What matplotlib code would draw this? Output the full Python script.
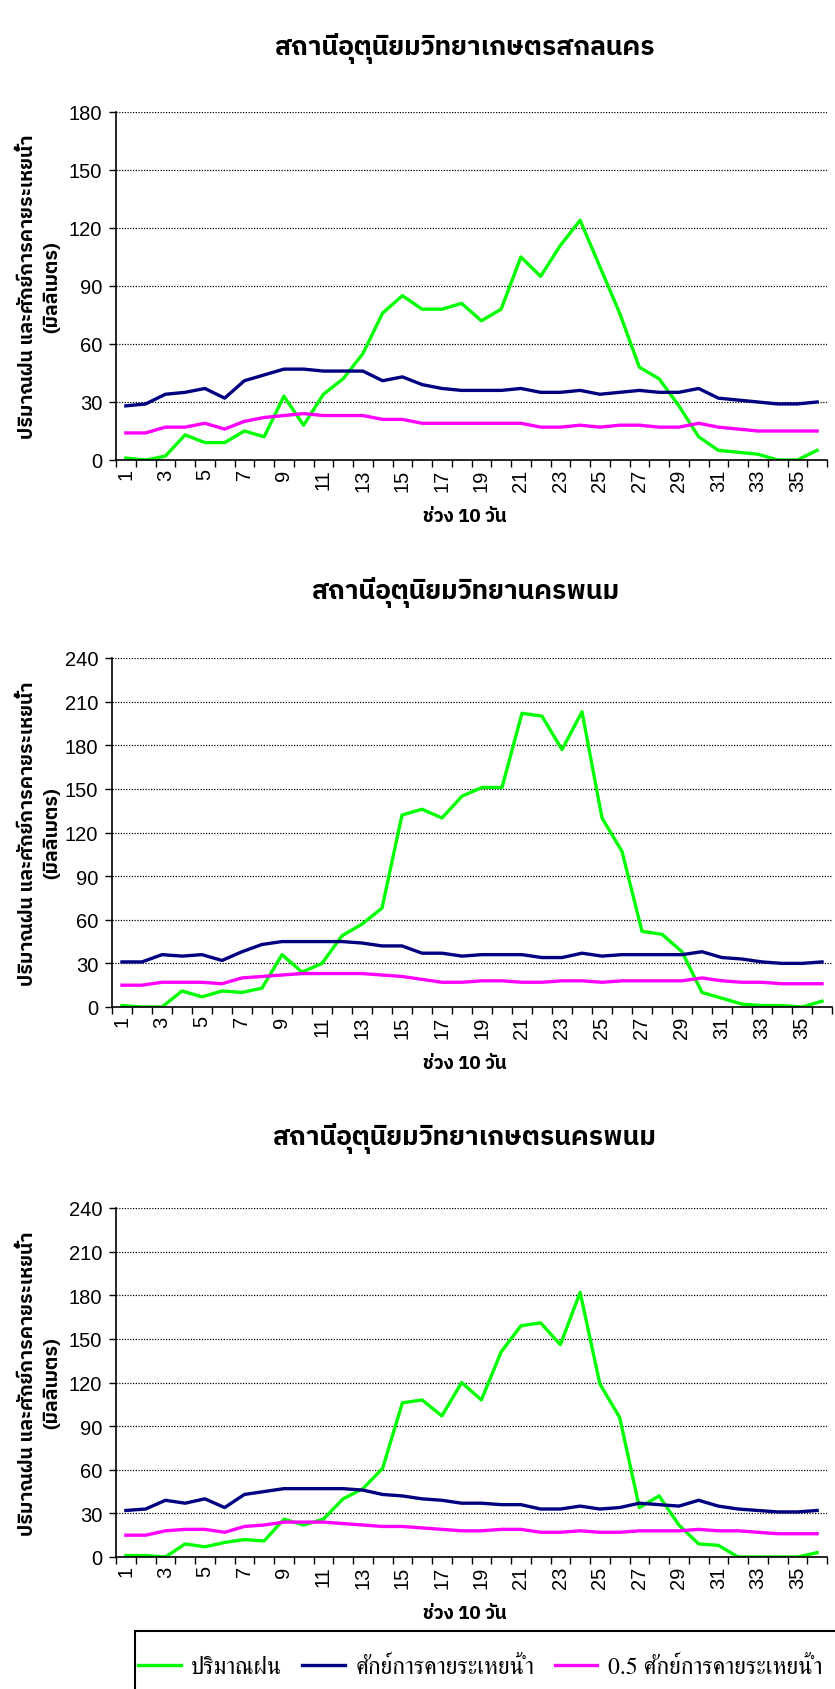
import matplotlib
matplotlib.use('Agg')
import matplotlib.pyplot as plt
from matplotlib import font_manager
from matplotlib.ft2font import FT2Font
from matplotlib.patches import Rectangle

# ช่วง 10 วัน (1-36)
periods = list(range(1, 37))

# สถานีอุตุนิยมวิทยาเกษตรสกลนคร
rain_1 = [1, 0, 2, 13, 9, 9, 15, 12, 33, 18, 34, 42, 55, 76, 85, 78, 78, 81,
          72, 78, 105, 95, 111, 124, 100, 76, 48, 42, 28, 12, 5, 4, 3, 0, 0, 5]
pet_1 = [28, 29, 34, 35, 37, 32, 41, 44, 47, 47, 46, 46, 46, 41, 43, 39, 37, 36,
         36, 36, 37, 35, 35, 36, 34, 35, 36, 35, 35, 37, 32, 31, 30, 29, 29, 30]
half_1 = [14, 14, 17, 17, 19, 16, 20, 22, 23, 24, 23, 23, 23, 21, 21, 19, 19, 19,
          19, 19, 19, 17, 17, 18, 17, 18, 18, 17, 17, 19, 17, 16, 15, 15, 15, 15]

# สถานีอุตุนิยมวิทยานครพนม
rain_2 = [1, 0, 0, 11, 7, 11, 10, 13, 36, 24, 30, 49, 57, 68, 132, 136, 130, 145,
          151, 151, 202, 200, 177, 203, 130, 107, 52, 50, 38, 10, 6, 2, 1, 1, 0, 4]
pet_2 = [31, 31, 36, 35, 36, 32, 38, 43, 45, 45, 45, 45, 44, 42, 42, 37, 37, 35,
         36, 36, 36, 34, 34, 37, 35, 36, 36, 36, 36, 38, 34, 33, 31, 30, 30, 31]
half_2 = [15, 15, 17, 17, 17, 16, 20, 21, 22, 23, 23, 23, 23, 22, 21, 19, 17, 17,
          18, 18, 17, 17, 18, 18, 17, 18, 18, 18, 18, 20, 18, 17, 17, 16, 16, 16]

# สถานีอุตุนิยมวิทยาเกษตรนครพนม
rain_3 = [1, 1, 0, 9, 7, 10, 12, 11, 26, 22, 26, 40, 47, 61, 106, 108, 97, 120,
          108, 141, 159, 161, 146, 182, 119, 96, 34, 42, 22, 9, 8, 0, 0, 0, 0, 3]
pet_3 = [32, 33, 39, 37, 40, 34, 43, 45, 47, 47, 47, 47, 46, 43, 42, 40, 39, 37,
         37, 36, 36, 33, 33, 35, 33, 34, 37, 36, 35, 39, 35, 33, 32, 31, 31, 32]
half_3 = [15, 15, 18, 19, 19, 17, 21, 22, 24, 24, 24, 23, 22, 21, 21, 20, 19, 18,
          18, 19, 19, 17, 17, 18, 17, 17, 18, 18, 18, 19, 18, 18, 17, 16, 16, 16]

titles = ['สถานีอุตุนิยมวิทยาเกษตรสกลนคร',
          'สถานีอุตุนิยมวิทยานครพนม',
          'สถานีอุตุนิยมวิทยาเกษตรนครพนม']
y_max = [180, 240, 240]
legend_labels = ['ปริมาณฝน', 'ศักย์การคายระเหยน้ำ', '0.5 ศักย์การคายระเหยน้ำ']
ylabel = 'ปริมาณฝน และศักย์การคายระเหยน้ำ\n(มิลลิเมตร)'
xlabel = 'ช่วง 10 วัน'


# หาฟอนต์ที่มีอักษรไทย
def find_thai(prefer_serif=False):
    found = []
    for fe in font_manager.fontManager.ttflist:
        try:
            if 0x0E01 in FT2Font(fe.fname).get_charmap():
                found.append(fe.name)
        except Exception:
            pass
    found = sorted(set(found))
    if prefer_serif:
        for n in found:
            if 'Serif' in n:
                return n
    for n in found:
        if 'Sans' in n or 'Looped' in n:
            return n
    return found[0] if found else 'DejaVu Sans'


names = {fe.name for fe in font_manager.fontManager.ttflist}
thai = find_thai()
thai_serif = find_thai(prefer_serif=True)
narrow = 'Liberation Sans Narrow' if 'Liberation Sans Narrow' in names else 'Liberation Sans'
plt.rcParams['font.family'] = [thai, 'DejaVu Sans']

fig = plt.figure(figsize=(8.35, 16.9), dpi=100)
W, H = 835.0, 1690.0

# ตำแหน่งกราฟ (พิกเซล): ซ้าย, ขวา, บน, ล่าง
boxes = [(116, 827, 113, 461), (112, 832, 659, 1008), (116, 827, 1209, 1558)]
title_gap = [64, 66, 71]
series = [(rain_1, pet_1, half_1), (rain_2, pet_2, half_2), (rain_3, pet_3, half_3)]

handles = None
for k in range(3):
    l, r, t, b = boxes[k]
    ax = fig.add_axes([l / W, 1 - b / H, (r - l) / W, (b - t) / H])
    rain, pet, half = series[k]
    h1, = ax.plot(periods, rain, color='#00FF00', lw=2.4)
    h2, = ax.plot(periods, pet, color='#000080', lw=2.4)
    h3, = ax.plot(periods, half, color='#FF00FF', lw=2.4)
    handles = [h1, h2, h3]

    ax.set_xlim(0.5, 36.5)
    ax.set_ylim(0, y_max[k])
    yt = list(range(0, y_max[k] + 1, 30))
    ax.set_yticks(yt)
    ax.set_yticklabels([str(v) for v in yt], family=narrow, fontsize=14.5)
    ax.tick_params(axis='y', length=5, width=1, pad=5, direction='out')

    # ขีดแบ่งที่ขอบช่วง ป้ายที่กึ่งกลางช่วงเลขคี่
    ax.set_xticks([i + 0.5 for i in range(0, 37)])
    ax.set_xticklabels([])
    ax.set_xticks([p for p in periods if p % 2 == 1], minor=True)
    ax.set_xticklabels([str(p) for p in periods if p % 2 == 1], minor=True,
                       rotation=90, family=narrow, fontsize=14.5)
    ax.tick_params(axis='x', which='major', length=5, width=1, direction='out')
    ax.tick_params(axis='x', which='minor', length=0, pad=6)

    for v in yt[1:]:
        ax.axhline(v, color='black', lw=0.9, ls=(0, (1, 1.2)), zorder=0)

    for s in ['top', 'right']:
        ax.spines[s].set_visible(False)
    ax.spines['left'].set_linewidth(1.2)
    ax.spines['bottom'].set_linewidth(1.2)

    hgt = b - t
    ax.text(0.49, 1 + title_gap[k] / hgt, titles[k], transform=ax.transAxes,
            ha='center', va='center', fontsize=19, fontweight='bold')
    ax.text(0.49, -56 / hgt, xlabel, transform=ax.transAxes,
            ha='center', va='center', fontsize=13.5, fontweight='bold')
    ax.text(-(l - 40) / (r - l), 0.5, ylabel, transform=ax.transAxes, rotation=90,
            ha='center', va='center', fontsize=14, fontweight='bold',
            linespacing=1.5)

# กรอบคำอธิบายสัญลักษณ์
fig.patches.append(Rectangle((135 / W, -0.01), 1.0, (1690 - 1632) / H + 0.01,
                             transform=fig.transFigure, fill=False,
                             edgecolor='black', lw=1.5))
fig.legend(handles, legend_labels, loc='center left',
           bbox_to_anchor=(138 / W, 1 - 1668 / H), ncol=3, frameon=False,
           prop={'family': [thai_serif, 'DejaVu Serif'], 'size': 17},
           handlelength=1.8, handletextpad=0.45, columnspacing=0.85,
           borderpad=0, borderaxespad=0)

fig.savefig('out.png', dpi=100)
